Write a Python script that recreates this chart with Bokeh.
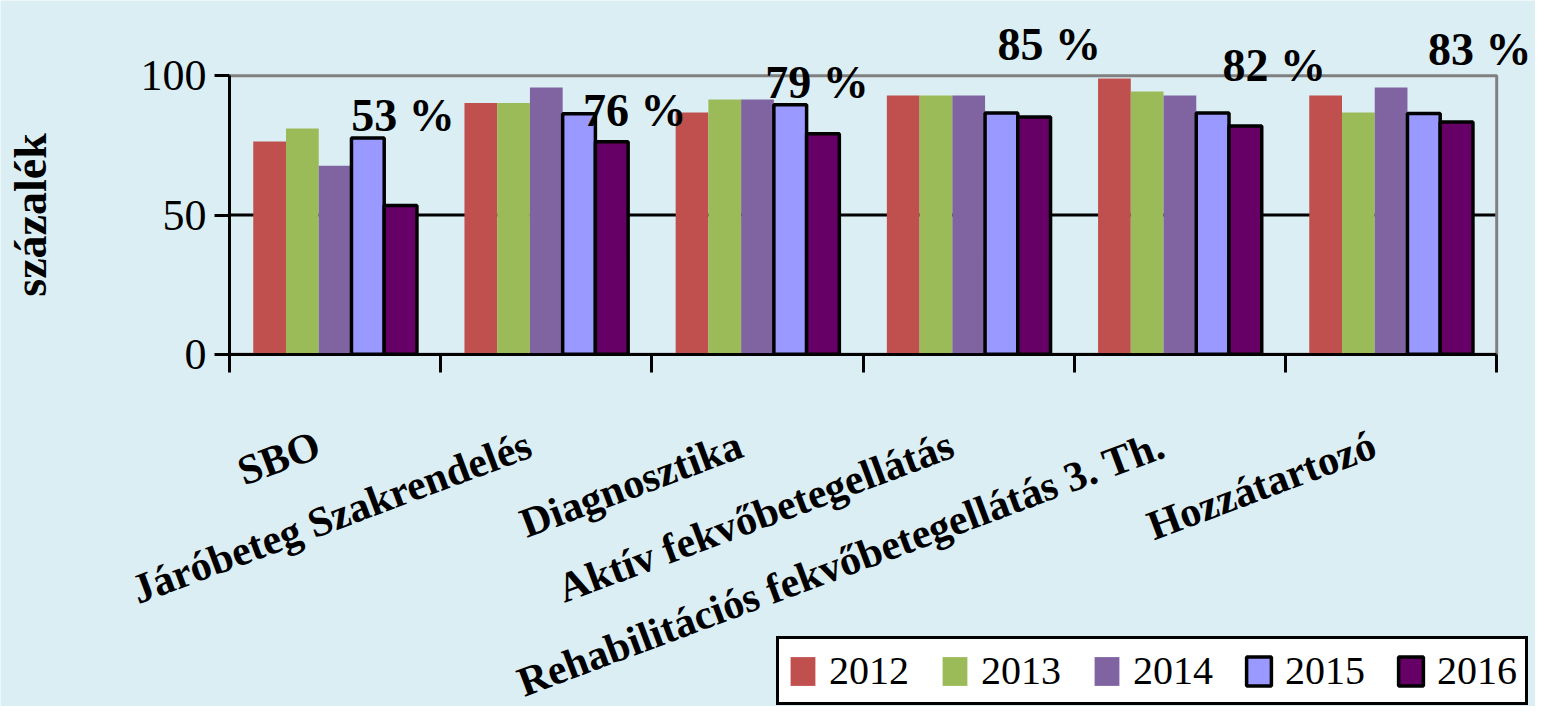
from bokeh.plotting import figure
from bokeh.models import Range1d, FixedTicker, Label, Legend, LegendItem, BoxAnnotation
from bokeh.embed import file_html
from bokeh.resources import INLINE

# ---- data ----
categories = ["SBO", "Járóbeteg Szakrendelés", "Diagnosztika",
              "Aktív fekvőbetegellátás", "Rehabilitációs fekvőbetegellátás 3. Th.",
              "Hozzátartozó"]
years = ["2012", "2013", "2014", "2015", "2016"]
v2012 = [76.4, 90.2, 86.8, 92.9, 99.0, 92.9]
v2013 = [81.1, 90.2, 91.5, 92.9, 94.4, 86.8]
v2014 = [67.7, 95.8, 91.5, 92.9, 92.9, 95.8]
v2015 = [77.7, 86.4, 89.6, 86.6, 86.6, 86.5]
v2016 = [53.4, 76.3, 79.2, 85.2, 82.0, 83.4]
y_ticks = [0, 50, 100]
axis_title = "százalék"

# ---- layout / style (not data) ----
series = [v2012, v2013, v2014, v2015, v2016]
colors = ["#C0504D", "#9BBB59", "#8064A2", "#9999FF", "#660066"]
outlined = [False, False, False, True, True]
pct_dx = [0.322, 0.419, 0.282, 0.381, 0.447, 0.42]    # label x shift (category units)
pct_y = [85.7, 87.5, 97.6, 111.2, 103.7, 109.4]       # label baseline (data units)
BG = "#DBEEF4"
FONT = "Liberation Serif"
bar_w = 0.155

W, H = 1535, 706
PX_CAT = 211.2        # pixels per category
PX_UNIT = 2.784       # pixels per percent
LEFT_PX = 229         # x of the plot-area left edge
BASE_PX = 353.7       # y of the zero line
n = len(categories)
ymax = max(y_ticks)

p = figure(width=W, height=H,
           x_range=Range1d(-LEFT_PX / PX_CAT, (W - LEFT_PX) / PX_CAT),
           y_range=Range1d(-(H - BASE_PX) / PX_UNIT, BASE_PX / PX_UNIT),
           output_backend="svg", toolbar_location=None, title=None,
           min_border=0)
p.background_fill_color = BG
p.border_fill_color = BG
p.outline_line_color = None
p.grid.visible = False

# plot-area border (grey) and the 50 gridline
p.add_layout(BoxAnnotation(left=0, right=n, bottom=0, top=ymax, fill_alpha=0,
                           line_color="#808080", line_width=3, line_alpha=1.0,
                           level="underlay"))
p.segment(x0=[0], x1=[n], y0=[y_ticks[1]], y1=[y_ticks[1]],
          line_color="black", line_width=3, level="underlay")

# axes (drawn at the data origin)
xa = p.xaxis[0]
xa.fixed_location = 0
xa.bounds = (0, n)
xa.ticker = FixedTicker(ticks=[], minor_ticks=list(range(n + 1)))
xa.major_label_text_color = None
xa.axis_line_width = 3
xa.axis_line_color = "black"
xa.major_tick_out = 0
xa.minor_tick_out = 18
xa.minor_tick_in = 0
xa.minor_tick_line_width = 3
xa.minor_tick_line_color = "black"

ya = p.yaxis[0]
ya.fixed_location = 0
ya.bounds = (0, ymax)
ya.ticker = FixedTicker(ticks=y_ticks)
ya.axis_line_width = 3
ya.axis_line_color = "black"
ya.major_tick_line_width = 3
ya.major_tick_line_color = "black"
ya.major_tick_out = 15
ya.major_tick_in = 0
ya.minor_tick_line_color = None
ya.major_label_text_font = FONT
ya.major_label_text_font_size = "44px"
ya.major_label_text_color = "black"
ya.major_label_standoff = 8
ya.axis_label = axis_title
ya.axis_label_text_font = FONT
ya.axis_label_text_font_style = "bold"
ya.axis_label_text_font_size = "46px"
ya.axis_label_text_color = "black"
ya.axis_label_standoff = 82

# bars
renderers = []
for j, vals in enumerate(series):
    xs = [i + 0.5 + (j - 2) * bar_w for i in range(n)]
    r = p.vbar(x=xs, top=vals, bottom=0, width=bar_w, fill_color=colors[j],
               line_color="black" if outlined[j] else None,
               line_width=3.5 if outlined[j] else 0)
    renderers.append(r)

# percentage labels (2016 values)
for i, v in enumerate(v2016):
    p.add_layout(Label(x=i + 0.5 + pct_dx[i], y=pct_y[i], text=f"{round(v)} %",
                       text_font=FONT, text_font_style="bold", text_font_size="46px",
                       text_align="center", text_baseline="alphabetic",
                       text_color="black"))

# rotated category labels
for i, c in enumerate(categories):
    p.add_layout(Label(x=i + 0.5, y=0, x_offset=-17, y_offset=-89, text=c,
                       angle=20.5, angle_units="deg",
                       text_font=FONT, text_font_style="bold", text_font_size="42px",
                       text_align="right", text_baseline="alphabetic",
                       text_color="black"))

legend = Legend(items=[LegendItem(label=y, renderers=[r]) for y, r in zip(years, renderers)],
                location=(776, 1), orientation="horizontal",
                label_text_font=FONT, label_text_font_size="40px",
                label_text_color="black",
                glyph_width=31, glyph_height=36, label_standoff=11, spacing=30,
                padding=8, margin=0,
                border_line_color="black", border_line_width=3, border_line_alpha=1.0,
                background_fill_color="white", background_fill_alpha=1.0)
p.add_layout(legend)

open("out.html", "w").write(file_html(p, INLINE))
